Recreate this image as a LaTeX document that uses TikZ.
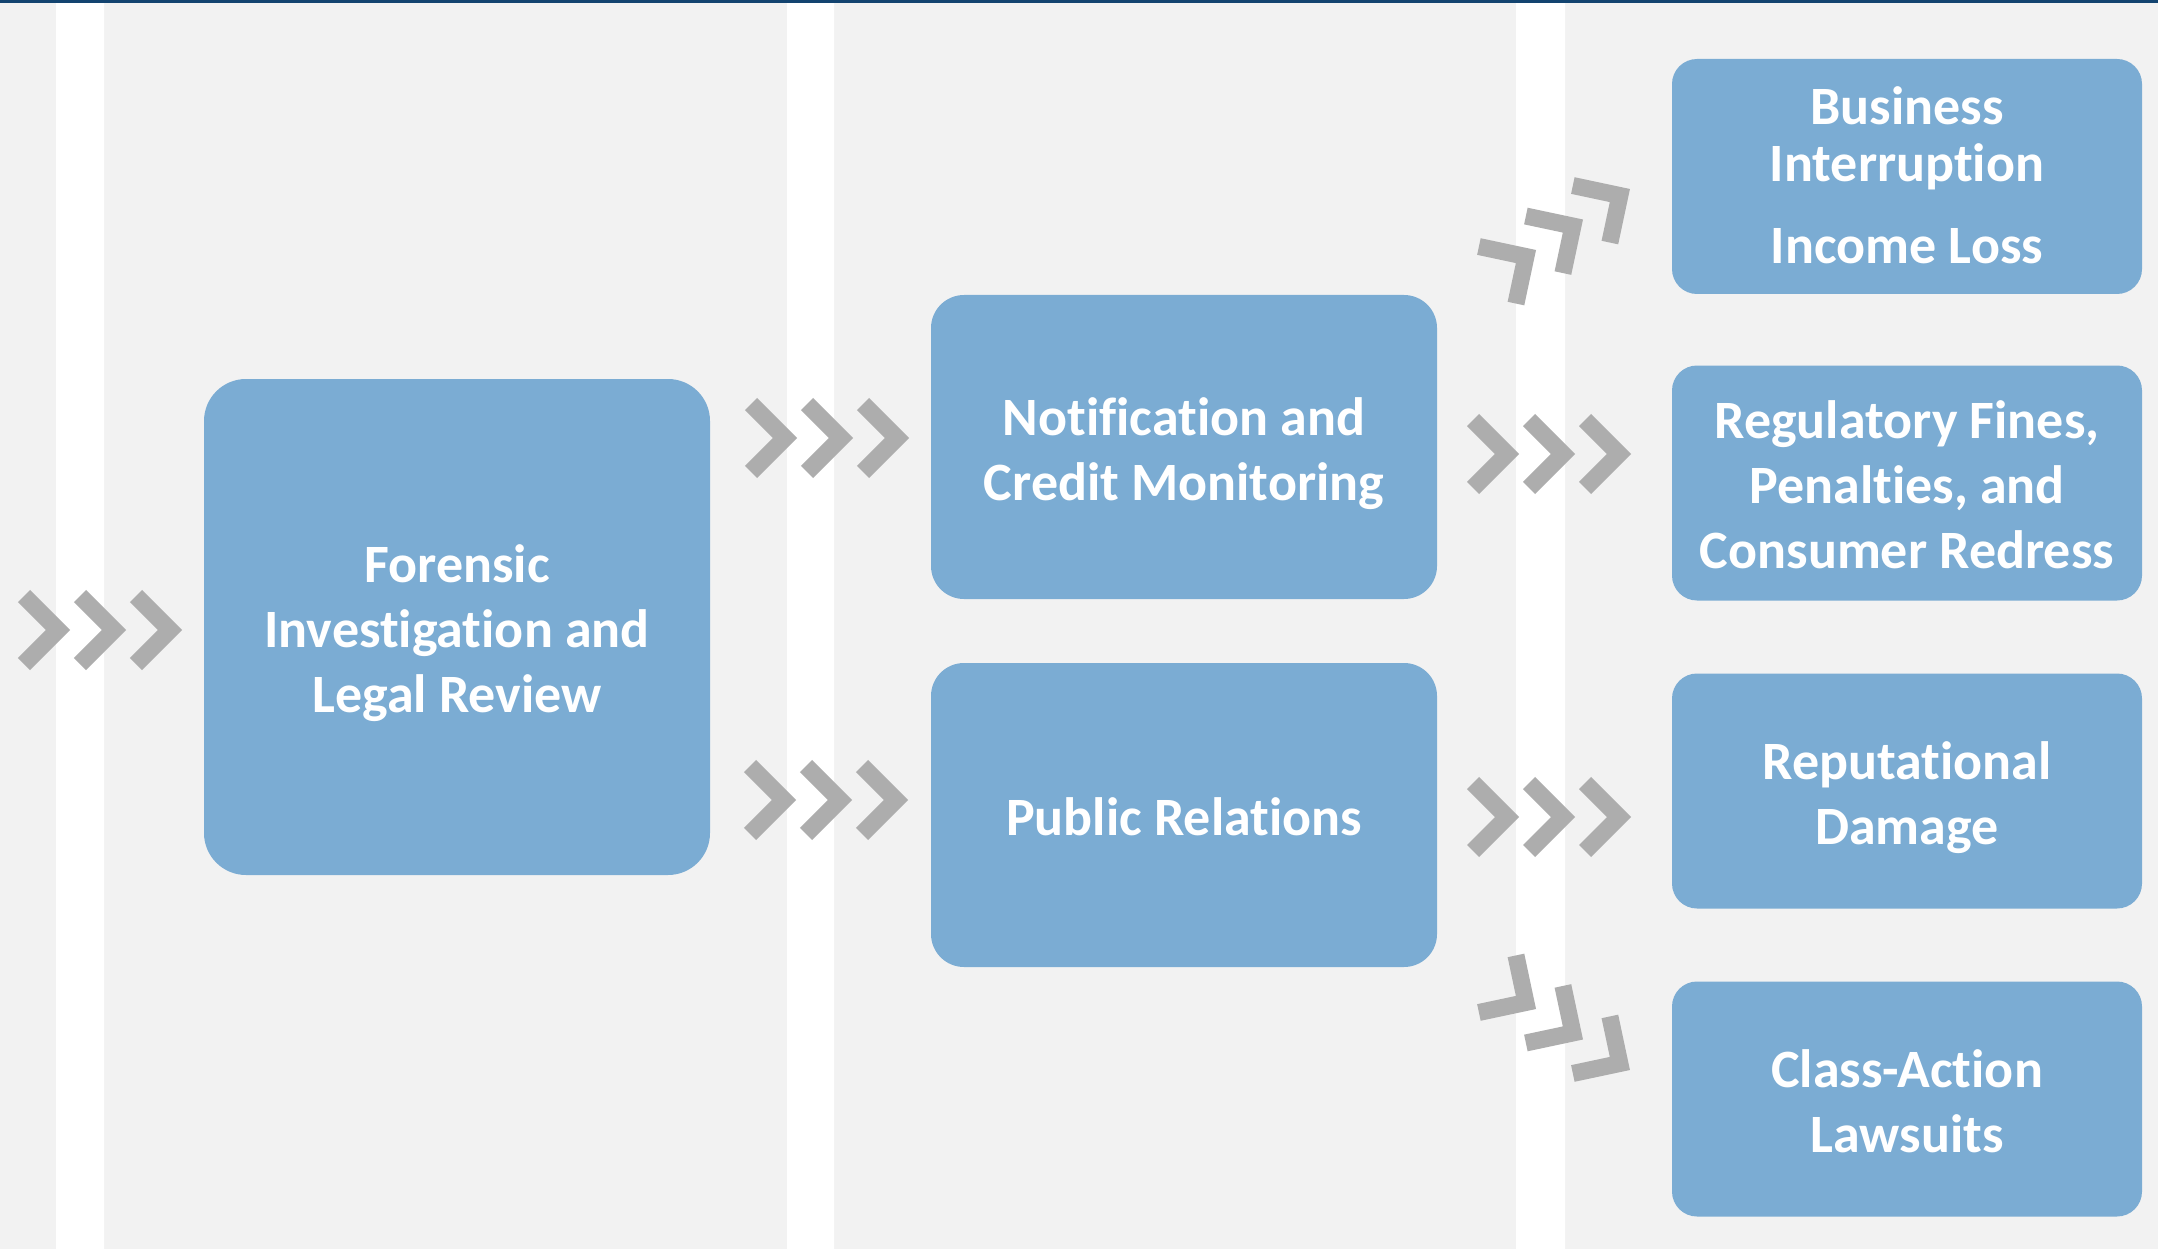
\documentclass[tikz,border=0pt]{standalone}
\usepackage{fontspec}
\setmainfont{Carlito}[Ligatures={NoCommon,NoContextual}]
\definecolor{boxblue}{HTML}{7BACD3}
\definecolor{chevgray}{HTML}{ADADAD}
\definecolor{panel}{HTML}{F2F2F2}
\definecolor{topline}{HTML}{134470}

\tikzset{
  chevrons/.pic={
    \draw[chevron] (-46,-34) -- (-12,0) -- (-46,34)
                   (10,-34)  -- (44,0)  -- (10,34)
                   (66,-34)  -- (100,0) -- (66,34);
  }
}

\begin{document}
\begin{tikzpicture}[x=1pt, y=-1pt,
    stage/.style={fill=boxblue, rounded corners=33pt,
                  minimum width=506pt, minimum height=304pt,
                  inner sep=0pt, text=white, align=center,
                  text height=41pt, text depth=0pt,
                  font=\bfseries\fontsize{54}{65}\selectfont},
    outcome/.style={stage, rounded corners=25pt,
                    minimum width=470pt, minimum height=235pt},
    two lines/.style={text height=106pt},
    three lines/.style={text height=171pt},
    chevron/.style={draw=chevgray, line width=17pt, line join=miter, line cap=butt}]
\useasboundingbox (0,0) rectangle (2158,1249);
\fill[panel] (0,0) rectangle (2158,1249);
\fill[white] (56,0) rectangle (104,1249)
             (787,0) rectangle (834,1249)
             (1516,0) rectangle (1565,1249);
\fill[topline] (0,0) rectangle (2158,3);

\node[stage, three lines, minimum height=496pt, rounded corners=42pt] (forensic) at (457,627)
     {Forensic\\Investigation and\\Legal Review};
\node[stage, two lines] (notify) at (1184,447) {Notification and\\Credit Monitoring};
\node[stage] (pr) at (1184,815) {Public Relations};

\node[outcome, text height=174pt, font=\bfseries\fontsize{54}{57}\selectfont] (business) at (1907,176.5)
     {Business\\Interruption\\[25pt]Income Loss};
\node[outcome, three lines] (fines) at (1907,483) {Regulatory Fines,\\Penalties, and\\Consumer Redress};
\node[outcome, two lines] (reputation) at (1907,791) {Reputational\\Damage};
\node[outcome, two lines] (lawsuits) at (1907,1099) {Class-Action\\Lawsuits};

\pic at (70,630) {chevrons};
\pic at (797,438) {chevrons};
\pic at (796,800) {chevrons};
\pic at (1519,454) {chevrons};
\pic at (1519,817) {chevrons};
\pic[rotate=33] at (1536,250) {chevrons};
\pic[rotate=-33] at (1536,1009) {chevrons};
\end{tikzpicture}
\end{document}
